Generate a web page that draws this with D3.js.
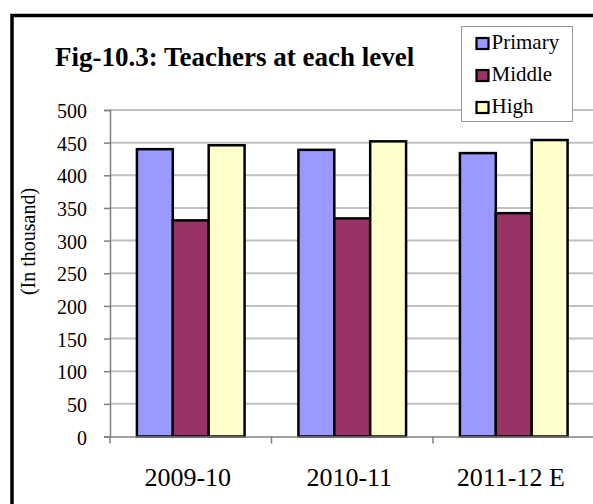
<!DOCTYPE html>
<html><head><meta charset="utf-8">
<script src="https://cdn.jsdelivr.net/npm/d3@7"></script>
<style>body{margin:0;background:#fff}svg{display:block}</style>
</head><body>
<svg id="c" width="593" height="504"></svg>
<script>
const categories = ["2009-10", "2010-11", "2011-12 E"];
const seriesNames = ["Primary", "Middle", "High"];
const primary = [440, 439, 434];
const middle = [331, 334, 342];
const high = [446, 452, 454];
const yTicks = [0, 50, 100, 150, 200, 250, 300, 350, 400, 450, 500];
const colors = ["#9999FF", "#993366", "#FFFFCC"];
const seriesValues = [primary, middle, high];

const svg = d3.select("#c");
const font = "'Liberation Serif','Times New Roman',serif";

// outer chart border (clipped on the right/bottom)
svg.append("rect").attr("x", 12).attr("y", 15.5).attr("width", 600).attr("height", 520)
  .attr("fill", "#fff").attr("stroke", "#000").attr("stroke-width", 3.5);

const plotL = 110, plotR = 594.5, plotT = 110, plotB = 436.5;
const y = d3.scaleLinear().domain([0, 500]).range([plotB, plotT]);
const x0 = d3.scaleBand().domain(categories).range([plotL, plotR]).padding(0);
const bw = x0.bandwidth();
const gap = bw * 0.75 / 4.5;
const x1 = d3.scaleBand().domain(seriesNames).range([gap, bw - gap]).padding(0);

// gridlines
svg.append("g").selectAll("line").data(yTicks.filter(d => d > 0)).join("line")
  .attr("x1", plotL).attr("x2", plotR + 5)
  .attr("y1", d => y(d)).attr("y2", d => y(d))
  .attr("stroke", "#c0c0c0").attr("stroke-width", 2);

// bars
const groups = svg.append("g").selectAll("g").data(categories).join("g")
  .attr("transform", c => `translate(${x0(c)},0)`);
groups.selectAll("rect").data((c, i) => seriesNames.map((s, j) => ({s, v: seriesValues[j][i], j})))
  .join("rect")
  .attr("x", d => x1(d.s)).attr("width", x1.bandwidth())
  .attr("y", d => y(d.v)).attr("height", d => plotB - y(d.v))
  .attr("fill", d => colors[d.j]).attr("stroke", "#000").attr("stroke-width", 2.5);

// y axis
const yAxis = svg.append("g").attr("transform", `translate(${plotL},0)`)
  .call(d3.axisLeft(y).tickValues(yTicks).tickSize(6).tickPadding(17).tickFormat(d3.format("d")));
yAxis.select(".domain").attr("stroke", "#808080").attr("stroke-width", 1.5);
yAxis.selectAll(".tick line").attr("stroke", "#808080").attr("stroke-width", 1.5);
yAxis.selectAll("text").attr("font-family", font).attr("font-size", 20).attr("fill", "#000")
  .attr("dy", "0.38em");

// x axis
const xAxis = svg.append("g").attr("transform", `translate(0,${plotB})`)
  .call(d3.axisBottom(x0).tickSize(0).tickPadding(31));
xAxis.select(".domain").attr("stroke", "#808080").attr("stroke-width", 1.5);
xAxis.selectAll("text").attr("font-family", font).attr("font-size", 26).attr("fill", "#000")
  .attr("dx", -3);
// category boundary ticks
svg.append("g").selectAll("line").data(categories).join("line")
  .attr("x1", c => x0(c)).attr("x2", c => x0(c))
  .attr("y1", plotB).attr("y2", plotB + 7)
  .attr("stroke", "#808080").attr("stroke-width", 1.5);

// y axis title
svg.append("text").attr("transform", "translate(35,241.5) rotate(-90)")
  .attr("text-anchor", "middle").attr("font-family", font).attr("font-size", 20)
  .text("(In thousand)");

// title
svg.append("text").attr("x", 55).attr("y", 66).attr("font-family", font)
  .attr("font-size", 27).attr("font-weight", "bold").text("Fig-10.3: Teachers at each level");

// legend
const lg = svg.append("g").attr("transform", "translate(461.5,26.5)");
lg.append("rect").attr("width", 111).attr("height", 95).attr("fill", "#fff")
  .attr("stroke", "#999").attr("stroke-width", 1);
const items = lg.selectAll("g").data(seriesNames).join("g")
  .attr("transform", (d, i) => `translate(15,${22.5 + i * 32})`);
items.append("rect").attr("x", 0).attr("y", -11).attr("width", 12).attr("height", 11)
  .attr("fill", (d, i) => colors[i]).attr("stroke", "#000").attr("stroke-width", 2.2);
items.append("text").attr("x", 15).attr("y", 0).attr("font-family", font)
  .attr("font-size", 21).text(d => d);
</script>
</body></html>
